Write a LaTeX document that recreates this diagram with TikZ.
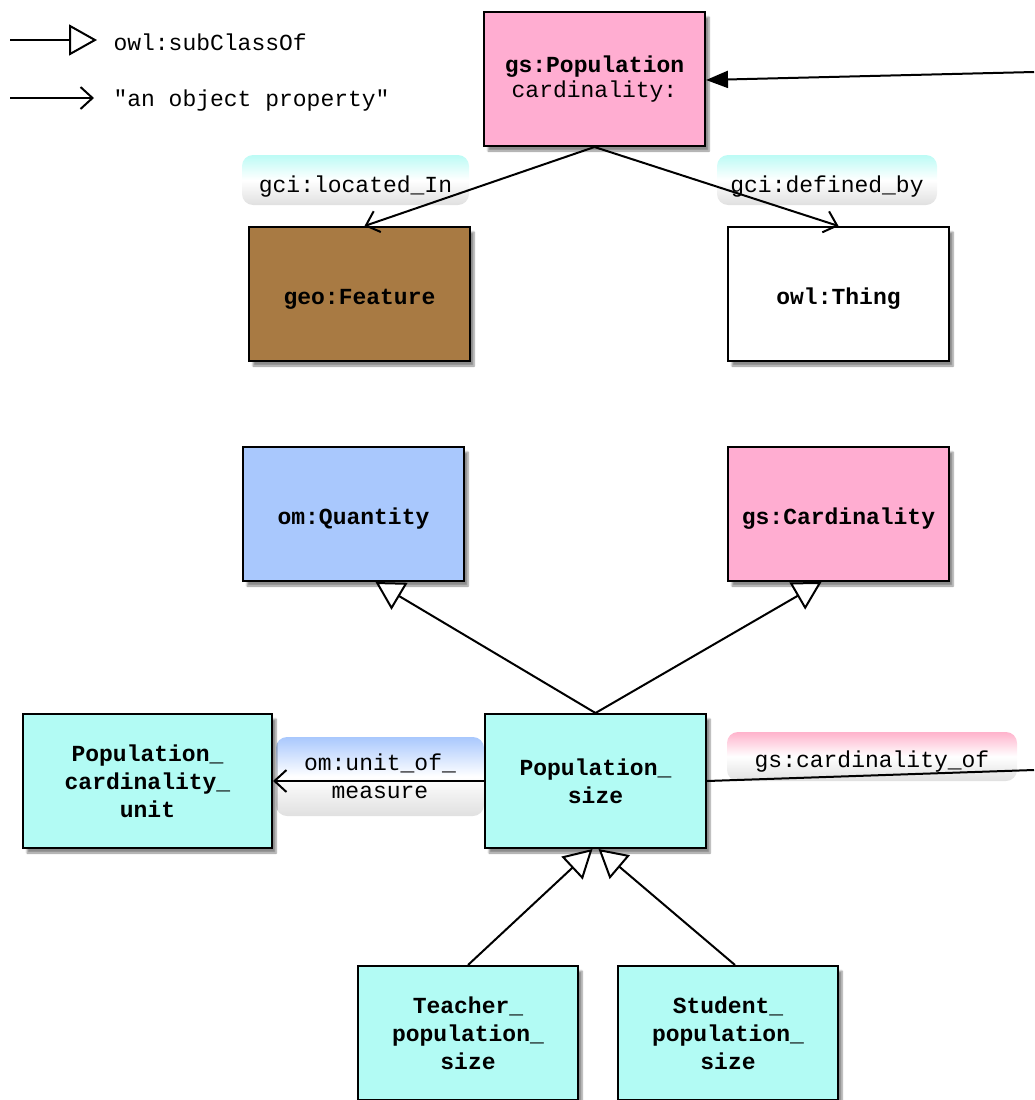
\documentclass[tikz,border=0pt]{standalone}
\usepackage{fontspec}
\setmonofont{Liberation Mono}
\usetikzlibrary{arrows.meta, shadows, shadows.blur}
\definecolor{popPink}{HTML}{FFADD1}
\definecolor{featBrown}{HTML}{A87A43}
\definecolor{qtyBlue}{HTML}{A9C8FD}
\definecolor{sizeCyan}{HTML}{B2FBF4}
\definecolor{tagCyan}{HTML}{BCFBF5}
\definecolor{tagBlue}{HTML}{A9C8FD}
\definecolor{tagPink}{HTML}{FFB3CC}
\definecolor{tagGrey}{HTML}{E0E0E0}
\tikzset{
    cls/.style={draw, line width=2pt, minimum width=221pt, minimum height=134pt,
        align=center, font=\fontsize{23}{28}\selectfont\ttfamily\bfseries,
        blur shadow={shadow xshift=4pt, shadow yshift=-5pt, shadow blur steps=6, shadow opacity=45}},
    tag/.style={rounded corners=11pt, minimum height=50pt, align=center,
        bottom color=tagGrey, top color=#1, middle color=white},
    oneline/.style={text height=#1, text depth=0pt},
    isa/.style={line width=2pt, -{Triangle[open, length=28pt, width=31pt, line width=2pt, fill=white]}},
    prop/.style={line width=2pt, -{Straight Barb[length=12pt, width=22pt, line width=2pt]}},
    attr/.style={line width=2pt, -{Triangle[length=22pt, width=17pt]}},
}

\begin{document}
\begin{tikzpicture}[x=1pt, y=-1pt, font=\fontsize{23}{28}\selectfont\ttfamily]
    \useasboundingbox (0,0) rectangle (1034,1100);
    % legend
    \coordinate (isaA) at (10,40);
    \coordinate (isaB) at (97,40);
    \coordinate (propA) at (10,98);
    \coordinate (propB) at (94,98);
    \draw[isa] (isaA) -- (isaB);
    \draw[prop] (propA) -- (propB);
    \node[anchor=west] (isaTxt) at (110,42) {owl:subClassOf};
    \node[anchor=west] (propTxt) at (110,101) {"an object property"};
    % property labels
    \node[tag=tagCyan, oneline=24pt, minimum width=227pt] (locTag) at (355.5,180) {gci:located\_In};
    \node[tag=tagCyan, oneline=24pt, minimum width=220pt] (defTag) at (827,180) {gci:defined\_by};
    \node[tag=tagBlue, minimum width=208pt, minimum height=79pt] (unitTag) at (380,776.5) {om:unit\_of\_\\measure};
    \node[tag=tagPink, oneline=22pt, minimum width=290pt, minimum height=49pt] (cardTag) at (872,756.5) {gs:cardinality\_of};
    % classes
    \node[cls, fill=popPink] (pop) at (594.5,79) {gs:Population\\[-3pt]\mdseries cardinality:};
    \node[cls, oneline=21pt, fill=featBrown] (feat) at (359.5,294) {geo:Feature};
    \node[cls, oneline=21pt, fill=white] (thing) at (838.5,294) {owl:Thing};
    \node[cls, oneline=21pt, fill=qtyBlue] (qty) at (353.5,514) {om:Quantity};
    \node[cls, oneline=21pt, fill=popPink] (card) at (838.5,514) {gs:Cardinality};
    \node[cls, fill=sizeCyan, minimum width=249pt] (unit) at (147.5,781) {Population\_\\cardinality\_\\unit};
    \node[cls, fill=sizeCyan] (size) at (595.5,781) {Population\_\\size};
    \node[cls, fill=sizeCyan, minimum width=220pt] (teach) at (468,1033) {Teacher\_\\population\_\\size};
    \node[cls, fill=sizeCyan, minimum width=220pt] (stud) at (728,1033) {Student\_\\population\_\\size};
    % connectors
    \coordinate (popIn) at (1034,72);
    \coordinate (cardOut) at (1034,770);
    \draw[attr] (popIn) -- ([yshift=-1pt]pop.east);
    \draw[prop] (pop.south) -- ([xshift=5pt]feat.north);
    \draw[prop] (pop.south) -- (thing.north);
    \draw[isa] (size.north) -- ([xshift=22pt]qty.south);
    \draw[isa] (size.north) -- ([xshift=-17pt]card.south);
    \draw[prop] (size.west) -- (unit.east);
    \draw[line width=2pt] (size.east) -- (cardOut);
    \draw[isa] (teach.north) -- ([xshift=-3pt]size.south);
    \draw[isa] ([xshift=7pt]stud.north) -- ([xshift=3pt]size.south);
\end{tikzpicture}
\end{document}
